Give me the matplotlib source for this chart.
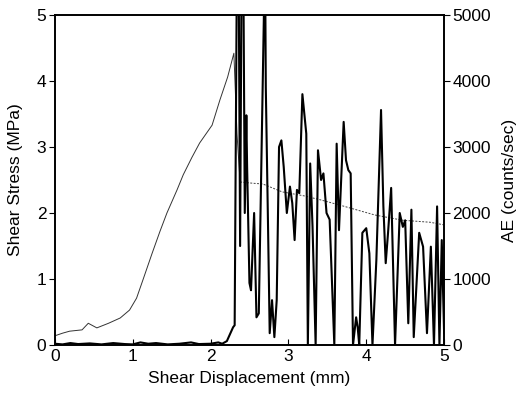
import matplotlib
matplotlib.use("Agg")
import matplotlib.pyplot as plt

plt.rcParams['font.family'] = ['Liberation Sans', 'DejaVu Sans']

# shear stress before peak (MPa)
stress_x = [0.0, 0.1, 0.19, 0.35, 0.43, 0.54, 0.69, 0.84, 0.96, 1.05, 1.13, 1.25, 1.35,
            1.44, 1.57, 1.65, 1.76, 1.86, 2.02, 2.12, 2.22, 2.30, 2.34, 2.38]
stress_y = [0.14, 0.18, 0.21, 0.23, 0.33, 0.26, 0.33, 0.41, 0.53, 0.71, 0.98, 1.39, 1.72,
            2.00, 2.35, 2.58, 2.84, 3.06, 3.33, 3.71, 4.06, 4.42, 3.2, 2.47]
# residual stress after failure (MPa)
resid_x = [2.38, 2.55, 2.67, 2.92, 3.2, 3.41, 3.66, 4.11, 4.47, 4.82, 5.0]
resid_y = [2.47, 2.45, 2.44, 2.32, 2.26, 2.20, 2.12, 1.97, 1.89, 1.86, 1.82]

# acoustic emission (counts/sec)
ae_x = [0.0, 0.1, 0.2, 0.3, 0.45, 0.6, 0.75, 0.9, 1.0, 1.1, 1.2, 1.3, 1.45, 1.6, 1.75, 1.85,
        2.0, 2.1, 2.15, 2.21, 2.29, 2.31, 2.34, 2.36, 2.38, 2.40, 2.42, 2.44, 2.46, 2.47,
        2.50, 2.52, 2.56, 2.59, 2.62, 2.70, 2.71, 2.74, 2.76, 2.79, 2.82, 2.85, 2.88, 2.91,
        2.94, 2.98, 3.02, 3.05, 3.08, 3.11, 3.14, 3.18, 3.23, 3.25, 3.28, 3.31, 3.35, 3.38,
        3.42, 3.45, 3.49, 3.53, 3.59, 3.62, 3.65, 3.71, 3.74, 3.77, 3.80, 3.83, 3.87, 3.89,
        3.91, 3.95, 4.00, 4.04, 4.08, 4.13, 4.19, 4.22, 4.25, 4.28, 4.32, 4.37, 4.43, 4.47,
        4.50, 4.54, 4.58, 4.61, 4.68, 4.73, 4.78, 4.83, 4.87, 4.91, 4.94, 4.97, 5.0]
ae_y = [20, 10, 30, 15, 25, 10, 30, 15, 10, 40, 20, 30, 10, 20, 40, 15,
        20, 40, 20, 60, 270, 300, 6000, 6000, 1500, 6000, 6000, 2000, 3480, 2700,
        940, 830, 2000, 420, 480, 6000, 3900, 1700, 180, 680, 120, 680, 3000, 3100,
        2700, 2000, 2400, 2150, 1590, 2350, 2300, 3800, 3200, 0, 2750, 1800, 0, 2950,
        2500, 2600, 2000, 1900, 0, 3050, 1740, 3380, 2800, 2650, 2600, 0, 420, 270,
        0, 1700, 1770, 1390, 0, 1290, 3560, 2100, 1240, 1700, 2380, 0, 2000, 1790,
        1890, 330, 2050, 120, 1700, 1490, 180, 1490, 0, 2100, 0, 1590, 180]

fig = plt.figure(figsize=(5.17, 3.93), dpi=100)
ax = fig.add_axes([0.106, 0.122, 0.753, 0.840])
ax2 = ax.twinx()

ax2.plot(ae_x, ae_y, color='black', lw=1.5)
ax.plot(stress_x, stress_y, color='#333333', lw=0.7)
ax.plot(resid_x, resid_y, color='#444444', lw=0.7, ls=(0, (2, 1.5)))

ax.set_xlim(0, 5)
ax.set_ylim(0, 5)
ax2.set_ylim(0, 5000)
ax.set_xticks([0, 1, 2, 3, 4, 5])
ax.set_yticks([0, 1, 2, 3, 4, 5])
ax2.set_yticks([0, 1000, 2000, 3000, 4000, 5000])

ax.set_xlabel('Shear Displacement (mm)', fontsize=12.5, labelpad=5)
ax.set_ylabel('Shear Stress (MPa)', fontsize=12.5, labelpad=10)
ax2.set_ylabel('AE (counts/sec)', fontsize=12.5, labelpad=8)

ax.tick_params(axis='x', direction='in', length=4, labelsize=12.5, pad=3)
ax.tick_params(axis='y', direction='out', length=4, labelsize=12.5, pad=2)
ax2.tick_params(axis='y', direction='out', length=4, labelsize=12.5, pad=2)

for a in (ax, ax2):
    for s in a.spines.values():
        s.set_linewidth(1.2)

fig.savefig('out.png', dpi=100)
